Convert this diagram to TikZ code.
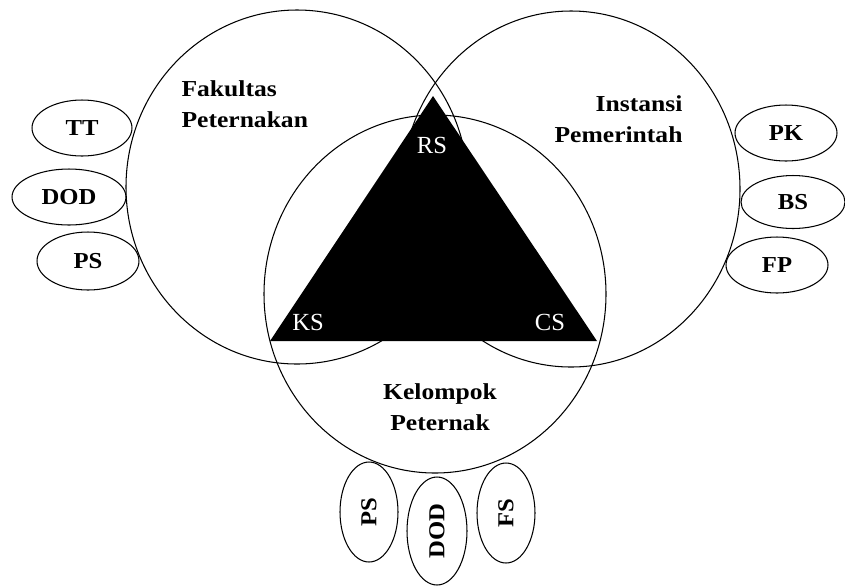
\documentclass[tikz,border=0pt]{standalone}
\usepackage{fontspec}
\setmainfont{Liberation Serif}
\newfontfamily\widefont[FakeStretch=1.12]{Liberation Serif}
\newfontfamily\ovalfont[FakeStretch=1.08]{Liberation Serif}
\usetikzlibrary{shapes.geometric}

\tikzset{
  lbl/.style={font=\widefont\fontsize{13}{18}\selectfont\bfseries, inner sep=0pt},
  corner/.style={font=\fontsize{14}{16}\selectfont, text=white, inner sep=0pt},
  oval/.style={draw, ellipse, line width=0.6pt, inner sep=0pt,
    minimum width=2cm, minimum height=1.12cm,
    font=\ovalfont\fontsize{13}{15}\selectfont\bfseries},
  ovalup/.style={oval, rotate=90}
}

\begin{document}
\begin{tikzpicture}[x=0.02cm,y=-0.02cm,line width=0.6pt]
\useasboundingbox (0,0) rectangle (845,586);

% the three groups
\draw (297,187) ellipse [x radius=171, y radius=177];
\draw (571,189) ellipse [x radius=169, y radius=178];
\draw (435,294) ellipse [x radius=171, y radius=179];

% triangle
\coordinate (apex) at (433,96);
\coordinate (kscorner) at (270,341);
\coordinate (cscorner) at (597,341);
\fill[black] (apex) -- (kscorner) -- (cscorner) -- cycle;
\node[corner] (rs) at (432,145) {RS};
\node[corner] (ks) at (308,322) {KS};
\node[corner] (cs) at (550,322) {CS};

% group labels
\node[lbl, align=left, anchor=west] (fapet) at (181,104) {Fakultas\\Peternakan};
\node[lbl, align=right, anchor=east] (instansi) at (683,119) {Instansi\\Pemerintah};
\node[lbl, align=center] (kelompok) at (440,407) {Kelompok\\Peternak};

% left ovals
\node[oval] (tt) at (82,128) {TT};
\node[oval, minimum width=2.28cm] (dodl) at (69,197) {DOD};
\node[oval, minimum width=2.04cm, minimum height=1.16cm] (psl) at (88,261) {PS};

% right ovals
\node[oval, minimum width=2.04cm] (pk) at (786,133) {PK};
\node[oval, minimum width=2.08cm, minimum height=1.06cm] (bs) at (793,202) {BS};
\node[oval, minimum width=2.04cm] (fp) at (777,265) {FP};

% bottom ovals
\node[ovalup, minimum width=2cm, minimum height=1.16cm] (psb) at (369,512) {PS};
\node[ovalup, minimum width=2.16cm, minimum height=1.2cm] (dodb) at (437,531) {DOD};
\node[ovalup, minimum width=2cm, minimum height=1.16cm] (fs) at (506,513) {FS};

\end{tikzpicture}
\end{document}
